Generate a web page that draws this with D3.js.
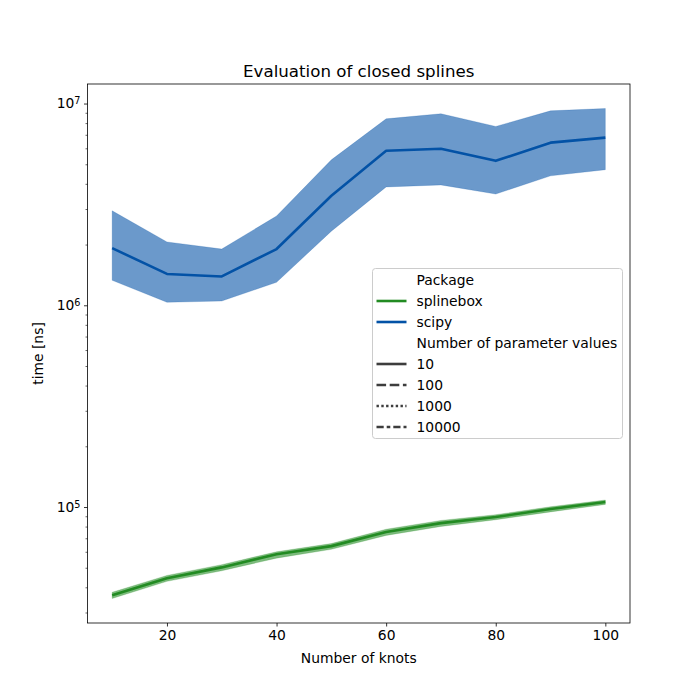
<!DOCTYPE html>
<html>
<head>
<meta charset="utf-8">
<script src="https://cdn.jsdelivr.net/npm/d3@7"></script>
<style>
  html, body { margin: 0; padding: 0; background: #fff; }
  text { font-family: "DejaVu Sans", sans-serif; }
</style>
</head>
<body>
<svg id="chart" width="700" height="700"></svg>
<script>
// ---- data ----
const knots = [10, 20, 30, 40, 50, 60, 70, 80, 90, 100];

const splineboxMean  = [36500, 44400, 50200, 58300, 64000, 75200, 83200, 89200, 97700, 106000];
const splineboxLower = [35200, 42800, 48300, 55800, 61700, 72300, 80100, 86500, 94600, 103000];
const splineboxUpper = [37800, 45800, 51800, 60000, 65900, 77600, 85800, 91600, 100300, 108300];

const scipyMean  = [1.92e6, 1.43e6, 1.39e6, 1.90e6, 3.49e6, 5.83e6, 5.97e6, 5.20e6, 6.40e6, 6.78e6];
const scipyLower = [1.33e6, 1.035e6, 1.05e6, 1.30e6, 2.33e6, 3.86e6, 3.95e6, 3.56e6, 4.38e6, 4.70e6];
const scipyUpper = [2.94e6, 2.06e6, 1.90e6, 2.77e6, 5.26e6, 8.40e6, 8.90e6, 7.70e6, 9.20e6, 9.45e6];

const packages = ["splinebox", "scipy"];
const paramCounts = ["10", "100", "1000", "10000"];
const xTicks = [20, 40, 60, 80, 100];
const yMajorTicks = [1e5, 1e6, 1e7];
const yTickExponents = ["5", "6", "7"];

// ---- layout ----
const svg = d3.select("#chart");
const mLeft = 87.5, mRight = 630, mTop = 84, mBottom = 623;
const colors = { splinebox: "#228b22", scipy: "#0352a6" };
const fs = 13.89;

// x scale with matplotlib-like 5% margins
const xMin = d3.min(knots), xMax = d3.max(knots);
const xPad = (xMax - xMin) * 0.05;
const x = d3.scaleLinear().domain([xMin - xPad, xMax + xPad]).range([mLeft, mRight]);

// y log scale with 5% margins in log space
const allLow = d3.min(splineboxLower.concat(scipyLower));
const allHigh = d3.max(splineboxUpper.concat(scipyUpper));
const lL = Math.log10(allLow), lH = Math.log10(allHigh);
const lPad = (lH - lL) * 0.05;
const y = d3.scaleLog().domain([Math.pow(10, lL - lPad), Math.pow(10, lH + lPad)]).range([mBottom, mTop]);

const series = [
  { name: "splinebox", mean: splineboxMean, lo: splineboxLower, hi: splineboxUpper },
  { name: "scipy", mean: scipyMean, lo: scipyLower, hi: scipyUpper }
];

const g = svg.append("g");
g.append("defs").append("clipPath").attr("id", "clip")
  .append("rect").attr("x", mLeft).attr("y", mTop).attr("width", mRight - mLeft).attr("height", mBottom - mTop);

const plot = g.append("g").attr("clip-path", "url(#clip)");

const area = d3.area()
  .x((d, i) => x(knots[i]))
  .y0(d => y(d[0]))
  .y1(d => y(d[1]));
const line = d3.line()
  .x((d, i) => x(knots[i]))
  .y(d => y(d));

series.forEach(s => {
  const pts = s.lo.map((v, i) => [v, s.hi[i]]);
  plot.append("path")
    .attr("d", area(pts))
    .attr("fill", colors[s.name])
    .attr("fill-opacity", 0.59)
    .attr("stroke", colors[s.name])
    .attr("stroke-opacity", 0.2)
    .attr("stroke-width", 1);
});
series.forEach(s => {
  plot.append("path")
    .attr("d", line(s.mean))
    .attr("fill", "none")
    .attr("stroke", colors[s.name])
    .attr("stroke-width", 2.6)
    .attr("stroke-linejoin", "round");
});

// ---- axes ----
const xAxis = d3.axisBottom(x).tickValues(xTicks).tickSize(3.5).tickPadding(3.5).tickFormat(d3.format("d"));
const xg = g.append("g").attr("transform", `translate(0,${mBottom})`).call(xAxis);
xg.select(".domain").remove();
xg.selectAll("line").attr("stroke", "#000").attr("stroke-width", 0.8);
xg.selectAll("text").attr("font-size", fs).attr("fill", "#000").attr("font-family", "DejaVu Sans");

// y minor ticks
const [d0, d1] = y.domain();
const minor = [];
for (let e = Math.floor(Math.log10(d0)); e <= Math.ceil(Math.log10(d1)); e++) {
  for (let m = 2; m <= 9; m++) {
    const v = m * Math.pow(10, e);
    if (v >= d0 && v <= d1) minor.push(v);
  }
}
const ym = g.append("g").attr("transform", `translate(${mLeft},0)`)
  .call(d3.axisLeft(y).tickValues(minor).tickSize(2).tickFormat(""));
ym.select(".domain").remove();
ym.selectAll("line").attr("stroke", "#000").attr("stroke-width", 0.6);

const yg = g.append("g").attr("transform", `translate(${mLeft},0)`)
  .call(d3.axisLeft(y).tickValues(yMajorTicks).tickSize(3.5).tickFormat(""));
yg.select(".domain").remove();
yg.selectAll("line").attr("stroke", "#000").attr("stroke-width", 0.8);
yg.selectAll(".tick").each(function(d, i) {
  const t = d3.select(this).append("text")
    .attr("x", -7).attr("y", 0).attr("dy", "0.32em")
    .attr("text-anchor", "end").attr("font-size", fs).attr("fill", "#000");
  t.append("tspan").text("10");
  t.append("tspan").attr("dy", "-0.45em").attr("font-size", 9.7).text(yTickExponents[i]);
});

// frame
g.append("rect").attr("x", mLeft).attr("y", mTop).attr("width", mRight - mLeft).attr("height", mBottom - mTop)
  .attr("fill", "none").attr("stroke", "#000").attr("stroke-width", 0.8);

// labels
g.append("text").attr("x", (mLeft + mRight) / 2).attr("y", mTop - 7).attr("text-anchor", "middle")
  .attr("font-size", 16.67).attr("fill", "#000").text("Evaluation of closed splines");
g.append("text").attr("x", (mLeft + mRight) / 2).attr("y", 663).attr("text-anchor", "middle")
  .attr("font-size", fs).attr("fill", "#000").text("Number of knots");
g.append("text").attr("transform", `translate(43,${(mTop + mBottom) / 2}) rotate(-90)`).attr("text-anchor", "middle")
  .attr("font-size", fs).attr("fill", "#000").text("time [ns]");

// ---- legend ----
const lx = 372.5, ly = 268.5, lw = 250, lh = 170;
const leg = g.append("g");
leg.append("rect").attr("x", lx).attr("y", ly).attr("width", lw).attr("height", lh)
  .attr("rx", 3).attr("fill", "#fff").attr("fill-opacity", 0.8).attr("stroke", "#cccccc").attr("stroke-width", 1);
const legItems = [
  { label: "Package" },
  { label: packages[0], color: colors.splinebox, dash: null },
  { label: packages[1], color: colors.scipy, dash: null },
  { label: "Number of parameter values" },
  { label: paramCounts[0], color: "#3d3d3d", dash: null },
  { label: paramCounts[1], color: "#3d3d3d", dash: "9.6,3.6" },
  { label: paramCounts[2], color: "#3d3d3d", dash: "2.4,2.4" },
  { label: paramCounts[3], color: "#3d3d3d", dash: "7.2,3,3.6,3" }
];
legItems.forEach((it, i) => {
  const cy = ly + 11.5 + i * 21;
  if (it.color) {
    leg.append("line").attr("x1", lx + 4).attr("x2", lx + 34).attr("y1", cy).attr("y2", cy)
      .attr("stroke", it.color).attr("stroke-width", 2.6)
      .attr("stroke-dasharray", it.dash);
  }
  leg.append("text").attr("x", lx + 44).attr("y", cy).attr("dy", "0.36em")
    .attr("font-size", fs).attr("fill", "#000").text(it.label);
});
</script>
</body>
</html>
